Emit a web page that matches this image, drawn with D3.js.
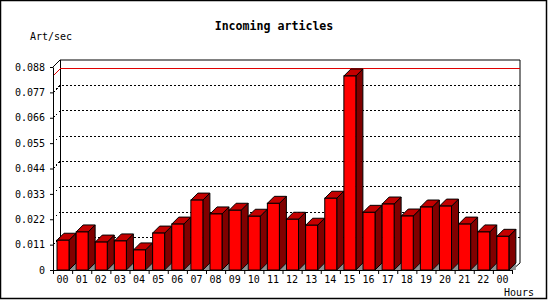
<!DOCTYPE html>
<html>
<head>
<meta charset="utf-8">
<script src="https://cdn.jsdelivr.net/npm/d3@7"></script>
<style>
  body { margin: 0; background: #fff; }
  text { font-family: 'DejaVu Sans Mono', monospace; fill: #000; }
</style>
</head>
<body>
<svg></svg>
<script>
// hours of the day (last bar is the next 00)
let hours = ['00','01','02','03','04','05','06','07','08','09','10','11',
             '12','13','14','15','16','17','18','19','20','21','22','00']
// incoming articles per second
let values = [0.0129, 0.0165, 0.0121, 0.0126, 0.0087, 0.0160, 0.0199, 0.0303,
              0.0243, 0.0259, 0.0233, 0.0289, 0.0220, 0.0194, 0.0311, 0.0841,
              0.0250, 0.0286, 0.0234, 0.0273, 0.0277, 0.0199, 0.0165, 0.0146]
let yTicks = [0, 0.011, 0.022, 0.033, 0.044, 0.055, 0.066, 0.077, 0.088]

let chartW = 550
let chartH = 300
let depth = 7          // 3d offset in px
let plotLeft = 53
let plotRight = 512
let plotBottom = 270
let plotTop = 67

let svg = d3.select('svg')
            .attr('width', chartW)
            .attr('height', chartH)

// outer frame
svg.append('rect')
   .attr('x', 0.5).attr('y', 0.5)
   .attr('width', 546).attr('height', 298)
   .attr('fill', 'none')
   .attr('stroke', '#000')
   .attr('stroke-width', 1.5)

let xScale = d3.scaleBand()
               .domain(d3.range(hours.length))
               .range([plotLeft, plotRight])
               .padding(0)

let yScale = d3.scaleLinear()
               .domain([0, d3.max(yTicks)])
               .range([plotBottom, plotTop])

// back wall
let yTop = yScale(d3.max(yTicks))
svg.append('path')
   .attr('d', 'M' + plotLeft + ',' + yTop + 'L' + (plotLeft + depth) + ',' + (yTop - depth) +
              'L' + (plotRight + 8) + ',' + (yTop - depth) +
              'L' + (plotRight + 8) + ',' + (plotBottom - depth) +
              'L' + plotRight + ',' + plotBottom)
   .attr('fill', 'none')
   .attr('stroke', '#000')

svg.append('line')
   .attr('x1', plotLeft + depth + 0.5).attr('x2', plotLeft + depth + 0.5)
   .attr('y1', yTop - depth).attr('y2', plotBottom - depth)
   .attr('stroke', '#000')

// dotted gridlines on the back wall
let gridPath = (v) => {
    let y = yScale(v)
    return 'M' + plotLeft + ',' + y + 'L' + (plotLeft + depth) + ',' + (y - depth) +
           'L' + (plotRight + 8) + ',' + (y - depth)
}

svg.selectAll('.grid')
   .data(yTicks.slice(1, -1))
   .enter()
   .append('path')
   .attr('class', 'grid')
   .attr('d', (d) => gridPath(d))
   .attr('fill', 'none')
   .attr('stroke', '#000')
   .attr('stroke-dasharray', '2,2')
   .attr('shape-rendering', 'crispEdges')

// max value line
svg.append('path')
   .attr('d', gridPath(d3.max(values)))
   .attr('fill', 'none')
   .attr('stroke', '#e00000')
   .attr('shape-rendering', 'crispEdges')

// bars
let barOff = 4
let barW = 12
let bars = svg.selectAll('.bar')
              .data(values)
              .enter()
              .append('g')
              .attr('class', 'bar')

// floor shadow
bars.append('path')
    .attr('d', (d, i) => {
        let x = xScale(i) + barOff + barW
        return 'M' + x + ',' + plotBottom + 'L' + (x + depth) + ',' + (plotBottom - depth) +
               'L' + (x + depth) + ',' + plotBottom + 'Z'
    })
    .attr('fill', '#909090')

// side
bars.append('path')
    .attr('d', (d, i) => {
        let x = xScale(i) + barOff + barW
        let y = yScale(d)
        return 'M' + x + ',' + y + 'L' + (x + depth) + ',' + (y - depth) +
               'L' + (x + depth) + ',' + (plotBottom - depth) + 'L' + x + ',' + plotBottom + 'Z'
    })
    .attr('fill', '#800000')
    .attr('stroke', '#000')
    .attr('stroke-linejoin', 'round')

// top
bars.append('path')
    .attr('d', (d, i) => {
        let x = xScale(i) + barOff
        let y = yScale(d)
        return 'M' + x + ',' + y + 'L' + (x + depth) + ',' + (y - depth) +
               'L' + (x + barW + depth) + ',' + (y - depth) + 'L' + (x + barW) + ',' + y + 'Z'
    })
    .attr('fill', '#c40000')
    .attr('stroke', '#000')
    .attr('stroke-linejoin', 'round')

// front
bars.append('rect')
    .attr('x', (d, i) => xScale(i) + barOff)
    .attr('y', (d) => yScale(d))
    .attr('width', barW)
    .attr('height', (d) => plotBottom - yScale(d))
    .attr('fill', '#ff0000')
    .attr('stroke', '#000')

// axes
let yAxis = d3.axisLeft(yScale)
              .tickValues(yTicks)
              .tickSize(3)
              .tickSizeOuter(0)
              .tickFormat((d) => d === 0 ? '0' : d3.format('.3f')(d))

svg.append('g')
   .attr('id', 'y-axis')
   .attr('transform', 'translate(' + plotLeft + ',0)')
   .call(yAxis)
   .call((g) => {
       g.selectAll('text').style('font-size', '10px').attr('x', -8)
       g.select('.domain').attr('stroke', '#000')
   })

let xAxis = d3.axisBottom(xScale)
              .tickSize(0)
              .tickSizeOuter(0)
              .tickFormat((i) => hours[i])

svg.append('g')
   .attr('id', 'x-axis')
   .attr('transform', 'translate(0,' + plotBottom + ')')
   .call(xAxis)
   .call((g) => {
       g.selectAll('text').style('font-size', '10px').attr('y', 6).attr('dy', '0.71em')
       g.select('.domain').attr('stroke', '#000')
   })

// x tick marks at slot edges
svg.selectAll('.xtick')
   .data(d3.range(hours.length + 1))
   .enter()
   .append('line')
   .attr('class', 'xtick')
   .attr('x1', (i) => plotLeft + i * xScale.step() + 0.5)
   .attr('x2', (i) => plotLeft + i * xScale.step() + 0.5)
   .attr('y1', plotBottom)
   .attr('y2', plotBottom + 4)
   .attr('stroke', '#000')

// labels
svg.append('text')
   .text('Incoming articles')
   .attr('x', 274)
   .attr('y', 30)
   .attr('text-anchor', 'middle')
   .style('font-size', '11.6px')
   .style('font-weight', 'bold')

svg.append('text')
   .text('Art/sec')
   .attr('x', 30)
   .attr('y', 40)
   .style('font-size', '10px')

svg.append('text')
   .text('Hours')
   .attr('x', 504)
   .attr('y', 296)
   .style('font-size', '10px')
</script>
</body>
</html>
